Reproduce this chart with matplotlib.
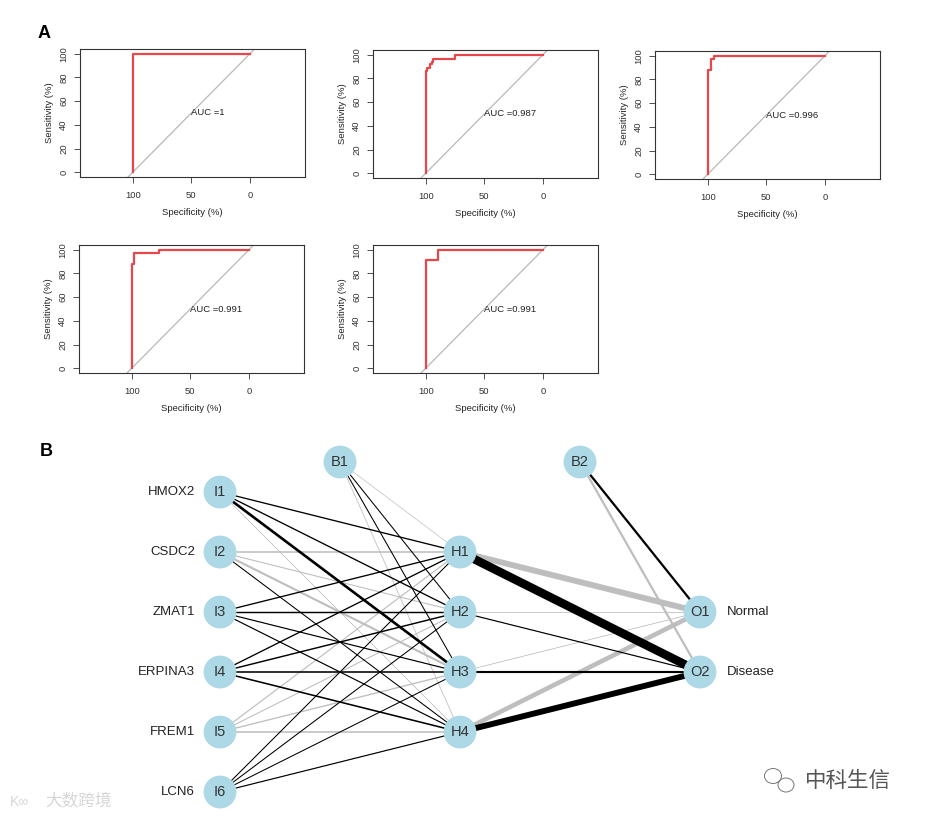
import matplotlib
matplotlib.use("Agg")
import matplotlib.pyplot as plt
import numpy as np
from matplotlib.patches import Ellipse

plt.rcParams['font.family'] = ['Liberation Sans', 'DejaVu Sans']

# ---- panel A: ROC curves (specificity %, sensitivity %) ----
roc_spec = [
    [100, 100, 0],
    [100, 100, 98.5, 98.5, 96.5, 96.5, 95, 95, 94, 94, 75, 75, 0],
    [100, 100, 97, 97, 95, 95, 0],
    [100, 100, 97.7, 97.7, 77, 77, 0],
    [100, 100, 89.5, 89.5, 0],
]
roc_sens = [
    [0, 100, 100],
    [0, 86, 86, 89, 89, 92, 92, 94, 94, 96, 96, 100, 100],
    [0, 88, 88, 97, 97, 100, 100],
    [0, 88, 88, 97, 97, 100, 100],
    [0, 91, 91, 100, 100],
]
auc_labels = ["AUC =1", "AUC =0.987", "AUC =0.996", "AUC =0.991", "AUC =0.991"]

# ---- panel B: neural network ----
input_names = ["HMOX2", "CSDC2", "ZMAT1", "ERPINA3", "FREM1", "LCN6"]
output_names = ["Normal", "Disease"]
# input -> hidden weights (rows I1..I6, cols H1..H4); sign: + black, - grey
w_ih = np.array([
    [1.0, 1.0, 2.0, -0.6],
    [-1.2, -0.8, -1.6, 0.8],
    [1.0, 1.1, 0.9, 0.9],
    [1.0, 1.1, 1.2, 1.2],
    [-0.9, -0.8, -1.0, -1.2],
    [0.8, 0.8, 0.8, 0.9],
])
w_b1h = np.array([-0.5, 0.8, 0.8, -0.6])
# hidden -> output weights (rows H1..H4, cols O1, O2)
w_ho = np.array([
    [-4.5, 6.5],
    [-0.6, 0.9],
    [-0.6, 1.6],
    [-3.5, 4.5],
])
w_b2o = np.array([1.7, -1.7])

W, H = 926, 824
fig = plt.figure(figsize=(W / 100, H / 100), dpi=100)


def px_axes(left, top, width, height):
    return fig.add_axes([left / W, 1 - (top + height) / H, width / W, height / H])


panel_pos = [(80, 49), (373, 50), (655, 51), (79, 245), (373, 245)]
red = '#E5474B'
for k, (l, t) in enumerate(panel_pos):
    ax = px_axes(l, t, 225, 128)
    ax.plot([104, -4], [-4, 104], color='#B8B8B8', lw=0.9)
    ax.plot(roc_spec[k], roc_sens[k], color=red, lw=1.6)
    ax.text(50, 50, auc_labels[k], fontsize=6.8, ha='left', va='center', color='#222222')
    ax.set_xlim(145, -47)
    ax.set_ylim(-4, 104)
    ax.set_xticks([100, 50, 0])
    ax.set_yticks([0, 20, 40, 60, 80, 100])
    ax.set_yticklabels(['0', '20', '40', '60', '80', '100'], rotation=90, va='center')
    ax.tick_params(labelsize=6.8, length=4, width=0.6, colors='#333333', pad=6)
    ax.tick_params(axis='y', pad=4.5)
    for s in ax.spines.values():
        s.set_linewidth(0.8)
        s.set_color('#333333')
    ax.set_xlabel("Specificity (%)", fontsize=6.8, color='#222222', labelpad=5.5)
    ax.set_ylabel("Sensitivity (%)", fontsize=6.8, color='#222222', labelpad=4)

fig.text(38 / W, 1 - 33 / H, "A", fontsize=13, fontweight='bold', va='center')
fig.text(40 / W, 1 - 452 / H, "B", fontsize=13, fontweight='bold', va='center')

# network axes: x layer units (240 px), y row units (60 px)
axn = px_axes(100, 440, 720, 375)
axn.set_xlim(-0.5, 2.5)
axn.set_ylim(5.383, -0.867)
axn.axis('off')

in_x, hid_x, out_x = 0.0, 1.0, 2.0
in_y = np.arange(6)
hid_y = np.arange(1, 5)
out_y = np.array([2, 3])
b1 = (0.5, -0.5)
b2 = (1.5, -0.5)


def edge(x0, y0, x1, y1, w):
    col = 'black' if w > 0 else '#BEBEBE'
    axn.plot([x0, x1], [y0, y1], color=col, lw=0.95 * abs(w), zorder=1 if w < 0 else 2,
             solid_capstyle='butt')


for i in range(6):
    for j in range(4):
        edge(in_x, in_y[i], hid_x, hid_y[j], w_ih[i, j])
for j in range(4):
    edge(b1[0], b1[1], hid_x, hid_y[j], w_b1h[j])
for j in range(4):
    for o in range(2):
        edge(hid_x, hid_y[j], out_x, out_y[o], w_ho[j, o])
for o in range(2):
    edge(b2[0], b2[1], out_x, out_y[o], w_b2o[o])

node_col = '#ADD8E6'
nodes = ([(in_x, y, f"I{i+1}") for i, y in enumerate(in_y)]
         + [(hid_x, y, f"H{j+1}") for j, y in enumerate(hid_y)]
         + [(out_x, y, f"O{o+1}") for o, y in enumerate(out_y)]
         + [(b1[0], b1[1], "B1"), (b2[0], b2[1], "B2")])
for x, y, lab in nodes:
    axn.scatter([x], [y], s=560, color=node_col, edgecolors='none', zorder=5)
    axn.text(x, y, lab, fontsize=10.5, ha='center', va='center', color='#333333', zorder=6)

for name, y in zip(input_names, in_y):
    axn.text(in_x - 0.104, y, name, fontsize=9.5, ha='right', va='center', color='#222222')
for name, y in zip(output_names, out_y):
    axn.text(out_x + 0.11, y, name, fontsize=9.5, ha='left', va='center', color='#222222')

# watermarks
cjk = ['Noto Sans CJK SC', 'DejaVu Sans']
fig.text(45 / W, 1 - 802 / H, "大数跨境", fontsize=12, color='#D6D6D6', va='center', family=cjk)
fig.text(10 / W, 1 - 802 / H, "K∞", fontsize=10, color='#D6D6D6', va='center')
fig.text(805 / W, 1 - 781 / H, "中科生信", fontsize=15.5, color='#555555', va='center', family=cjk)
fig.add_artist(Ellipse((773 / W, 1 - 776 / H), 17 / W, 15 / H, fill=False, ec='#777777',
                       lw=0.7, transform=fig.transFigure))
fig.add_artist(Ellipse((786 / W, 1 - 785 / H), 16 / W, 14 / H, fill=False, ec='#777777',
                       lw=0.7, transform=fig.transFigure))

fig.savefig("out.png", dpi=100, facecolor='white')
